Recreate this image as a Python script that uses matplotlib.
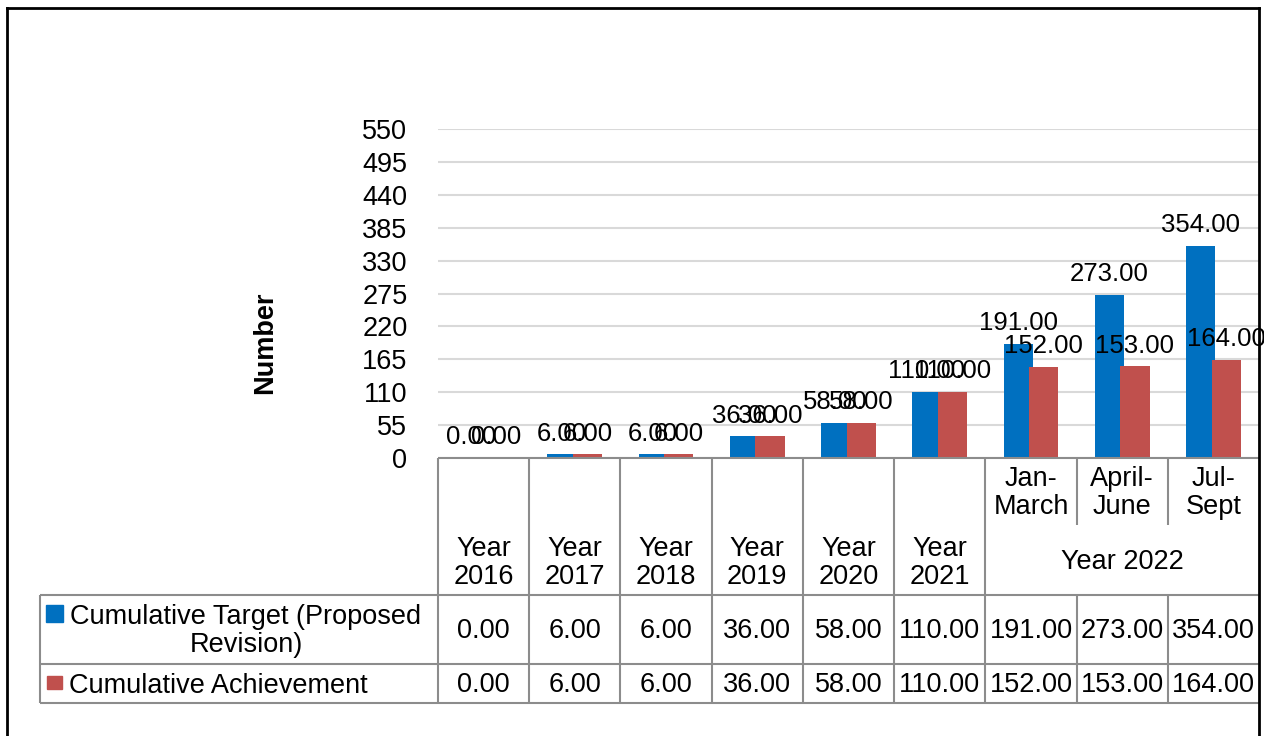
import matplotlib
matplotlib.use('Agg')
import matplotlib.pyplot as plt
import numpy as np

plt.rcParams['font.family'] = ['Liberation Sans', 'DejaVu Sans']

# data
categories = ['Year\n2016', 'Year\n2017', 'Year\n2018', 'Year\n2019', 'Year\n2020',
              'Year\n2021', 'Jan-\nMarch', 'April-\nJune', 'Jul-\nSept']
group_label = 'Year 2022'
n_single = 6  # first six columns are whole years, the rest are quarters of 2022
target = [0, 6, 6, 36, 58, 110, 191, 273, 354]
achieved = [0, 6, 6, 36, 58, 110, 152, 153, 164]
series_names = ['Cumulative Target (Proposed\nRevision)', 'Cumulative Achievement']
yticks = [0, 55, 110, 165, 220, 275, 330, 385, 440, 495, 550]

blue = '#0070C0'
red = '#C0504D'
grid_col = '#D9D9D9'
line_col = '#8C8C8C'
fs = 19.5      # axis / table text
fs_lab = 18.5  # data labels

W, H = 1264, 736
fig = plt.figure(figsize=(W / 100, H / 100), dpi=100)

# plot area in pixels
left, right, top, bottom = 438, 1259, 129, 458
ax = fig.add_axes([left / W, 1 - bottom / H, (right - left) / W, (bottom - top) / H])
ax.patch.set_visible(False)

x = np.arange(len(categories))
bw = 0.32
off = 0.14
b1 = ax.bar(x - off, target, bw, color=blue, zorder=3)
b2 = ax.bar(x + off, achieved, bw, color=red, zorder=3)

for bars, vals in [(b1, target), (b2, achieved)]:
    for rect, v in zip(bars, vals):
        ax.annotate(f'{v:.2f}', (rect.get_x() + rect.get_width() / 2, v),
                    xytext=(0, 10), textcoords='offset points',
                    ha='center', va='baseline', fontsize=fs_lab, zorder=5)

ax.set_xlim(-0.5, len(categories) - 0.5)
ax.set_ylim(0, 550)
ax.set_yticks(yticks)
ax.set_xticks([])
ax.tick_params(axis='y', length=0, pad=22, labelsize=fs)
ax.yaxis.grid(True, color=grid_col, lw=1.5, zorder=0)
for s in ax.spines.values():
    s.set_visible(False)

# overlay in pixel coordinates for the data table and frame
ov = fig.add_axes([0, 0, 1, 1])
ov.set_xlim(0, W)
ov.set_ylim(H, 0)
ov.axis('off')

fig.text(265 / W, 1 - 343 / H, 'Number', rotation=90, fontsize=fs,
         fontweight='bold', ha='center', va='center')

colw = (right - left) / len(categories)
edges = [left + i * colw for i in range(len(categories) + 1)]
row_top, row_mid, row_bot = 595, 664, 703
tab_left = 40
sub_bot = 525

def hline(y, x0, x1):
    ov.plot([x0, x1], [y, y], color=line_col, lw=1.5, solid_capstyle='butt')

def vline(xp, y0, y1):
    ov.plot([xp, xp], [y0, y1], color=line_col, lw=1.5, solid_capstyle='butt')

# header lines
hline(bottom, left, right)
for i, e in enumerate(edges[:-1]):
    if i <= n_single:
        vline(e, bottom, row_bot)
    else:
        vline(e, bottom, sub_bot)
        vline(e, row_top, row_bot)
hline(row_top, tab_left, right)
hline(row_mid, tab_left, right)
hline(row_bot, tab_left, right)
vline(tab_left, row_top, row_bot)

# category labels
for i, lab in enumerate(categories):
    cx = (edges[i] + edges[i + 1]) / 2
    cy = 563 if i < n_single else 493
    ov.text(cx, cy, lab, ha='center', va='center', fontsize=fs, linespacing=1.15)
ov.text((edges[n_single] + edges[-1]) / 2, 562, group_label, ha='center',
        va='center', fontsize=fs)

# table values
for vals, cy in [(target, (row_top + row_mid) / 2), (achieved, (row_mid + row_bot) / 2)]:
    for i, v in enumerate(vals):
        cx = (edges[i] + edges[i + 1]) / 2
        ov.text(cx, cy + 2, f'{v:.2f}', ha='center', va='center', fontsize=fs)

# legend keys in the table
ov.add_patch(plt.Rectangle((46, 605), 17, 17, color=blue))
ov.add_patch(plt.Rectangle((47, 676), 15, 13, color=red))
ov.text(246, 631, series_names[0], ha='center', va='center', fontsize=fs,
        multialignment='center', linespacing=1.05)
ov.text(69, 686, series_names[1], ha='left', va='center', fontsize=fs)

# chart frame
ov.plot([7, 7], [8, H], color='black', lw=2)
ov.plot([7, 1259], [8, 8], color='black', lw=2)
ov.plot([1259, 1259], [8, H], color='black', lw=2)

fig.savefig('out.png', dpi=100)
